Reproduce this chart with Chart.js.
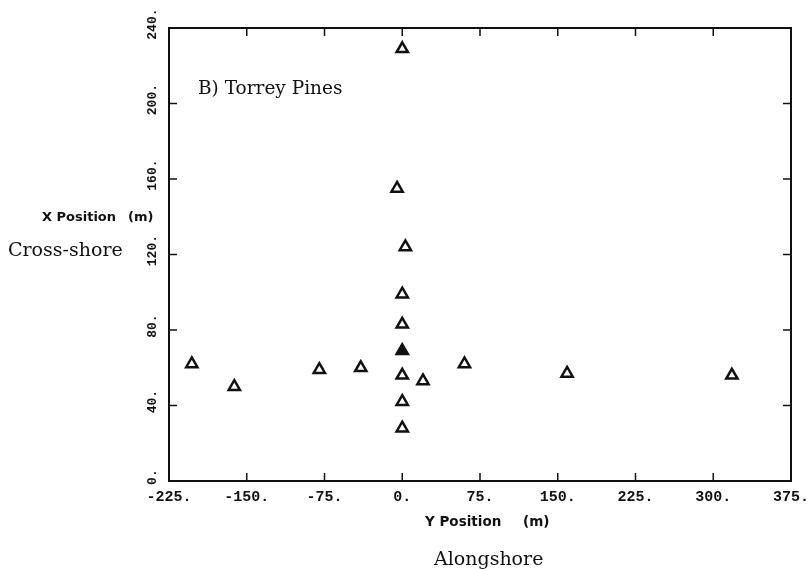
<!DOCTYPE html>
<html>
<head>
<meta charset="utf-8">
<title>Torrey Pines instrument positions</title>
<script src="https://cdn.jsdelivr.net/npm/chart.js@4.4.0/dist/chart.umd.min.js"></script>
<style>
  html, body { margin: 0; background: #fff; }
  #wrap { width: 811px; height: 569px; }
</style>
</head>
<body>
<div id="wrap"><canvas id="posChart"></canvas></div>
<script>
// instrument positions (m): alongshore = Y, cross-shore = X
const alongshore = [-203, -162, -80, -40, 0, 20, 60, 159, 318, 0, 0, 0, 0, 3, -5, 0];
const crossShore = [62, 50, 59, 60, 56, 53, 62, 57, 56, 28, 42, 83, 99, 124, 155, 229];
// the filled marker
const refAlong = [0];
const refCross = [69];

const xTicks = [-225, -150, -75, 0, 75, 150, 225, 300, 375];
const yTicks = [0, 40, 80, 120, 160, 200, 240];

const INK = '#111';
const mono = "'Liberation Mono', 'DejaVu Sans Mono', monospace";
const xTickFont = { family: mono, size: 15, weight: 'bold' };
const yTickFont = { family: mono, size: 13, weight: 'bold' };
const serif = "'DejaVu Serif', serif";
const sans = "'DejaVu Sans', sans-serif";

const toPoints = (xs, ys) => xs.map((v, i) => ({ x: v, y: ys[i] }));

// box round the plot with the ticks turned inward on all four sides, plus the loose labels
const frameAndLabels = {
    id: 'frameAndLabels',
    afterDraw(chart) {
        const { ctx, chartArea: a, scales: { x, y } } = chart;
        const len = 8;
        ctx.save();
        ctx.strokeStyle = INK;
        ctx.lineWidth = 2;
        ctx.strokeRect(a.left, a.top, a.right - a.left, a.bottom - a.top);

        ctx.lineWidth = 1.5;
        ctx.beginPath();
        x.ticks.forEach(t => {
            const px = x.getPixelForValue(t.value);
            ctx.moveTo(px, a.bottom); ctx.lineTo(px, a.bottom - len);
            ctx.moveTo(px, a.top); ctx.lineTo(px, a.top + len);
        });
        y.ticks.forEach(t => {
            const py = y.getPixelForValue(t.value);
            ctx.moveTo(a.left, py); ctx.lineTo(a.left + len, py);
            ctx.moveTo(a.right, py); ctx.lineTo(a.right - len, py);
        });
        ctx.stroke();

        ctx.fillStyle = INK;
        ctx.textBaseline = 'middle';
        ctx.textAlign = 'left';

        ctx.font = '18.5px ' + serif;
        ctx.fillText('B) Torrey Pines', a.left + 29, a.top + 61);

        ctx.font = 'bold 13px ' + sans;
        ctx.fillText('X Position', 42, 218);
        ctx.fillText('(m)', 128, 218);
        ctx.font = 'bold 13.5px ' + sans;
        ctx.fillText('Y Position', 425, 522);
        ctx.fillText('(m)', 523, 522);

        ctx.font = '19px ' + serif;
        ctx.fillText('Cross-shore', 8, 251);
        ctx.fillText('Alongshore', 434, 560);
        ctx.restore();
    }
};

const ctx = document.getElementById('posChart').getContext('2d');
new Chart(ctx, {
    type: 'scatter',
    data: {
        datasets: [
            {
                data: toPoints(alongshore, crossShore),
                pointStyle: 'triangle',
                pointRadius: 6.5,
                borderWidth: 2.5,
                borderColor: INK,
                backgroundColor: '#fff'
            },
            {
                data: toPoints(refAlong, refCross),
                pointStyle: 'triangle',
                pointRadius: 6.5,
                borderWidth: 2.5,
                borderColor: INK,
                backgroundColor: INK
            }
        ]
    },
    options: {
        responsive: true,
        maintainAspectRatio: false,
        animation: false,
        layout: { padding: { top: 28, right: 20, left: 0, bottom: 0 } },
        plugins: { legend: { display: false }, tooltip: { enabled: false } },
        scales: {
            x: {
                type: 'linear',
                min: xTicks[0],
                max: xTicks[xTicks.length - 1],
                grid: { display: false, drawTicks: false },
                border: { display: false },
                ticks: {
                    stepSize: xTicks[1] - xTicks[0],
                    autoSkip: false,
                    maxRotation: 0,
                    padding: 7,
                    color: INK,
                    font: xTickFont,
                    callback: v => v + '.'
                },
                afterFit: s => {
                    s.height = 88;
                    // end labels may hang past the plot edges
                    s.paddingLeft = 0;
                    s.paddingRight = 0;
                }
            },
            y: {
                type: 'linear',
                min: yTicks[0],
                max: yTicks[yTicks.length - 1],
                grid: { display: false, drawTicks: false },
                border: { display: false },
                ticks: {
                    stepSize: yTicks[1] - yTicks[0],
                    autoSkip: false,
                    minRotation: 90,
                    maxRotation: 90,
                    crossAlign: 'center',
                    padding: -3,
                    color: INK,
                    font: yTickFont,
                    // leading space nudges the upright labels a little above their ticks
                    callback: v => ' ' + v + '.'
                },
                afterFit: s => {
                    s.width = 169;
                    s.paddingTop = 0;
                    s.paddingBottom = 0;
                }
            }
        }
    },
    plugins: [frameAndLabels]
});
</script>
</body>
</html>
